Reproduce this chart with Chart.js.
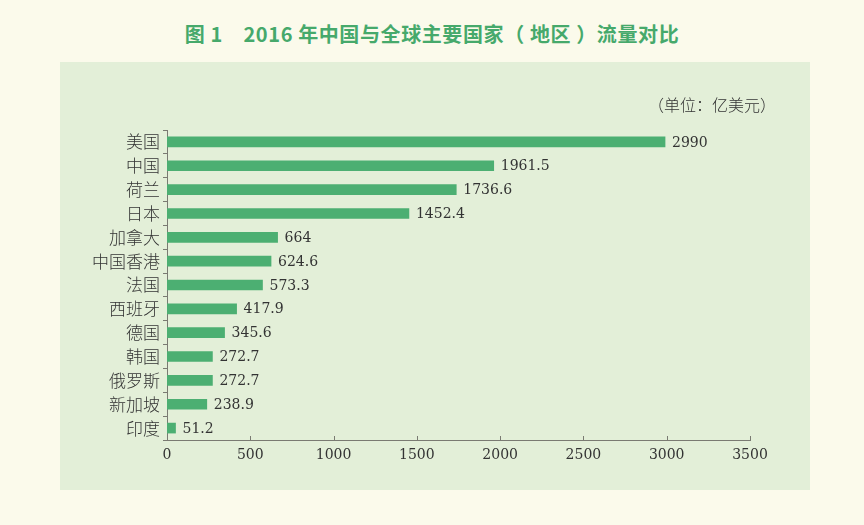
<!DOCTYPE html>
<html>
<head>
<meta charset="utf-8">
<script src="https://cdn.jsdelivr.net/npm/chart.js@4/dist/chart.umd.min.js"></script>
<style>
  body { margin: 0; background: #fbfaeb; width: 864px; height: 525px; overflow: hidden; }
  #title { position: absolute; left: 0; top: 19px; width: 864px; text-align: center;
    font: bold 20px "Noto Sans CJK SC", sans-serif; color: #46a96b; letter-spacing: 0.6px; }
  #panel { position: absolute; left: 60px; top: 62px; width: 750px; height: 428px; background: #e3efd8; }
  #unit { position: absolute; right: 34px; top: 30px; font: 300 16px "Noto Sans CJK SC", sans-serif; color: #333; }
</style>
</head>
<body>
<div id="title">图 1&nbsp;&nbsp;&nbsp;&nbsp;2016 年中国与全球主要国家（ 地区 ）流量对比</div>
<div id="panel">
  <div id="unit">（单位：亿美元）</div>
  <canvas id="flow-chart" width="750" height="428"></canvas>
</div>
<script>
const regions = ['美国', '中国', '荷兰', '日本', '加拿大', '中国香港', '法国', '西班牙', '德国', '韩国', '俄罗斯', '新加坡', '印度'];
const flows = [2990, 1961.5, 1736.6, 1452.4, 664, 624.6, 573.3, 417.9, 345.6, 272.7, 272.7, 238.9, 51.2];
const valueLabels = ['2990', '1961.5', '1736.6', '1452.4', '664', '624.6', '573.3', '417.9', '345.6', '272.7', '272.7', '238.9', '51.2'];
const xTicks = [0, 500, 1000, 1500, 2000, 2500, 3000, 3500];

const axisColor = '#7a7a72';
const ctx = document.getElementById('flow-chart').getContext('2d');

// value labels at bar ends + small inward ticks on the x axis
const extras = {
    id: 'extras',
    afterDatasetsDraw(chart) {
        const c = chart.ctx;
        const meta = chart.getDatasetMeta(0);
        c.save();
        c.font = '14px "DejaVu Serif", serif';
        c.fillStyle = '#333';
        c.textBaseline = 'middle';
        meta.data.forEach((bar, i) => {
            c.fillText(valueLabels[i], bar.x + 7, bar.y + 1);
        });
        const x = chart.scales.x;
        const bottom = chart.chartArea.bottom;
        c.strokeStyle = axisColor;
        c.lineWidth = 1;
        xTicks.forEach(v => {
            if (v === 0) return;
            const px = Math.round(x.getPixelForValue(v)) + 0.5;
            c.beginPath();
            c.moveTo(px, bottom);
            c.lineTo(px, bottom - 4);
            c.stroke();
        });
        c.restore();
    }
};

const flowChart = new Chart(ctx, {
    type: 'bar',
    data: {
        labels: regions,
        datasets: [{
            data: flows,
            backgroundColor: '#4caf72',
            barThickness: 10
        }]
    },
    options: {
        indexAxis: 'y',
        responsive: false,
        animation: false,
        layout: { padding: { left: 0, right: 60, top: 68, bottom: 0 } },
        plugins: {
            legend: { display: false },
            tooltip: { enabled: false }
        },
        scales: {
            x: {
                min: 0,
                max: 3500,
                afterBuildTicks: axis => { axis.ticks = xTicks.map(v => ({ value: v })); },
                afterFit: axis => { axis.height = 50; },
                grid: { display: false, drawTicks: false },
                border: { display: true, color: axisColor, width: 1 },
                ticks: {
                    color: '#333',
                    padding: 7,
                    callback: v => String(v),
                    font: { family: '"DejaVu Serif", serif', size: 14 }
                }
            },
            y: {
                afterFit: axis => { axis.width = 107; },
                grid: { drawOnChartArea: false, tickLength: 4, color: axisColor, offset: true },
                border: { display: true, color: axisColor, width: 1 },
                ticks: {
                    color: '#333',
                    padding: 3,
                    font: { family: '"Noto Sans CJK SC", sans-serif', size: 17, weight: 300 }
                }
            }
        }
    },
    plugins: [extras]
});
</script>
</body>
</html>
